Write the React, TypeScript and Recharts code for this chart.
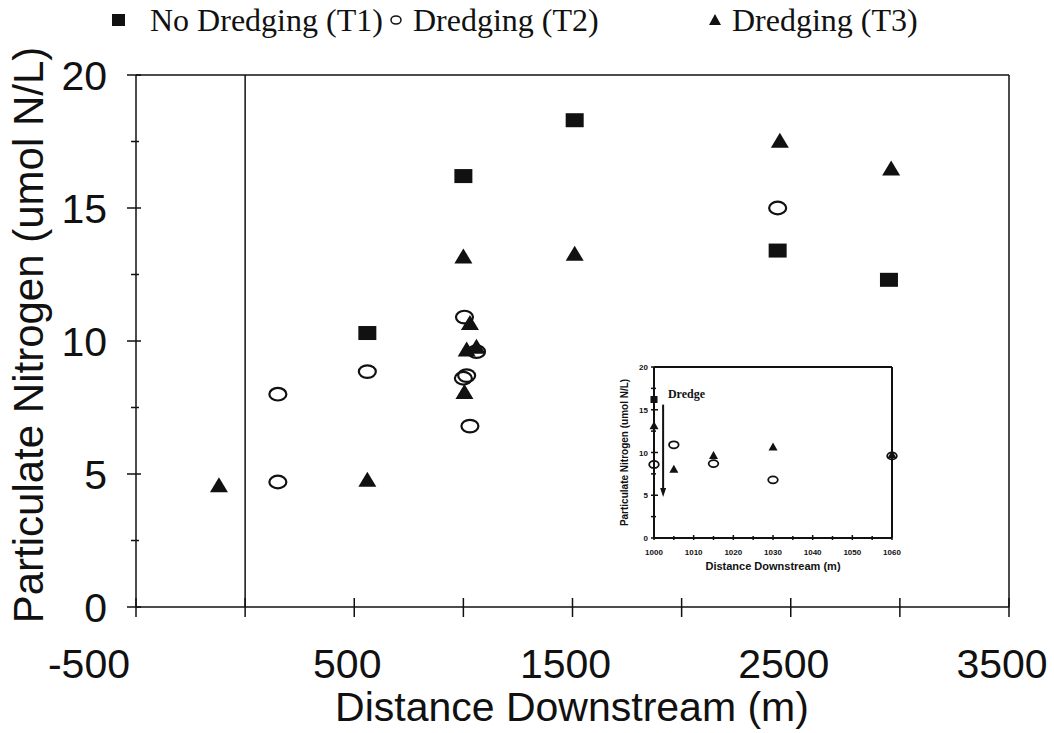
import React from 'react';
import { ScatterChart, Scatter, XAxis, YAxis, ReferenceLine, ReferenceDot, Label } from 'recharts';

// ---- data ----
const noDredgeX = [560, 1000, 1510, 2440, 2950];
const noDredgeY = [10.3, 16.2, 18.3, 13.4, 12.3];

const dredgeT2X = [150, 150, 560, 1000, 1005, 1015, 1030, 1060, 2440];
const dredgeT2Y = [8.0, 4.7, 8.85, 8.6, 10.9, 8.7, 6.8, 9.6, 15.0];

const dredgeT3X = [-120, 560, 1000, 1005, 1015, 1030, 1060, 1510, 2450, 2960];
const dredgeT3Y = [4.6, 4.8, 13.2, 8.1, 9.7, 10.7, 9.8, 13.3, 17.55, 16.5];

const mainXTicks = [-500, 0, 500, 1000, 1500, 2000, 2500, 3000, 3500];
const mainXLabels = [-500, 500, 1500, 2500, 3500];
const mainYTicks = [0, 2.5, 5, 7.5, 10, 12.5, 15, 17.5, 20];
const mainYLabels = [0, 5, 10, 15, 20];

const insetXTicks = [1000, 1005, 1010, 1015, 1020, 1025, 1030, 1035, 1040, 1045, 1050, 1055, 1060];
const insetXLabels = [1000, 1010, 1020, 1030, 1040, 1050, 1060];
const insetYTicks = [0, 2.5, 5, 7.5, 10, 12.5, 15, 17.5, 20];
const insetYLabels = [0, 5, 10, 15, 20];

const dredgeArrowX = 1002.3;
const dredgeArrowFrom = 15.6;
const dredgeArrowTo = 4.8;
const dredgeTextX = 1003.5;
const dredgeTextY = 16.4;

const seriesNames = ['No Dredging (T1)', 'Dredging (T2)', 'Dredging (T3)'];

const pts = (xs: number[], ys: number[]) => xs.map((x, i) => ({ x, y: ys[i] }));
const t1 = pts(noDredgeX, noDredgeY);
const t2 = pts(dredgeT2X, dredgeT2Y);
const t3 = pts(dredgeT3X, dredgeT3Y);
const inInset = (p: { x: number }) => p.x >= 1000 && p.x <= 1060;
const t1i = t1.filter(inInset);
const t2i = t2.filter(inInset);
const t3i = t3.filter(inInset);

const INK = '#111';
const SANS = "'Liberation Sans', Arial, sans-serif";
const SERIF = "'Liberation Serif', 'Times New Roman', serif";
const BIG = 41;

// ---- marker shapes ----
const squareShape = (w: number, h: number) => (p: any) => (
  <rect x={p.cx - w / 2} y={p.cy - h / 2} width={w} height={h} fill={INK} />
);
const circleShape = (rx: number, ry: number, sw: number) => (p: any) => (
  <ellipse cx={p.cx} cy={p.cy} rx={rx} ry={ry} fill="none" stroke={INK} strokeWidth={sw} />
);
const triangleShape = (w: number, h: number) => (p: any) => (
  <polygon
    points={`${p.cx - w / 2},${p.cy + h / 2} ${p.cx + w / 2},${p.cy + h / 2} ${p.cx},${p.cy - h / 2}`}
    fill={INK}
  />
);

// ---- main axis ticks ----
const MainYTick = (props: any) => {
  const { x, y, payload } = props;
  const v = payload.value;
  const major = mainYLabels.includes(v);
  return (
    <g>
      <line x1={x - (major ? 9 : 5)} x2={x + (major ? 5 : 3)} y1={y} y2={y} stroke={INK} strokeWidth={1.5} />
      {major && (
        <text x={x - 29} y={y + 15} textAnchor="end" fontFamily={SANS} fontSize={BIG} fill={INK}>
          {v}
        </text>
      )}
    </g>
  );
};

const MainXTick = (props: any) => {
  const { x, y, payload } = props;
  const v = payload.value;
  const labeled = mainXLabels.includes(v);
  return (
    <g>
      <line x1={x} x2={x} y1={y - 9} y2={y + 10} stroke={INK} strokeWidth={1.5} />
      {labeled && (
        <text
          x={v < 0 ? x - 6 : x - 7}
          y={y + 71}
          textAnchor={v < 0 ? 'end' : 'middle'}
          fontFamily={SANS}
          fontSize={BIG}
          fill={INK}
        >
          {v}
        </text>
      )}
    </g>
  );
};

// ---- inset axis ticks ----
const InsetYTick = (props: any) => {
  const { x, y, payload } = props;
  const v = payload.value;
  const major = insetYLabels.includes(v);
  return (
    <g>
      <line x1={x - 3} x2={x + (major ? 4 : 2)} y1={y} y2={y} stroke={INK} strokeWidth={1.5} />
      {major && (
        <text x={x - 6} y={y + 3} textAnchor="end" fontFamily={SANS} fontWeight="bold" fontSize={8} fill={INK}>
          {v}
        </text>
      )}
    </g>
  );
};

const InsetXTick = (props: any) => {
  const { x, y, payload } = props;
  const v = payload.value;
  const major = insetXLabels.includes(v);
  return (
    <g>
      <line x1={x} x2={x} y1={y - (major ? 3 : 2)} y2={y + 2} stroke={INK} strokeWidth={1.5} />
      {major && (
        <text x={x} y={y + 17} textAnchor="middle" fontFamily={SANS} fontWeight="bold" fontSize={8} fill={INK}>
          {v}
        </text>
      )}
    </g>
  );
};

const ArrowShape = (p: any) => {
  const { x1, y1, x2, y2 } = p;
  return (
    <g>
      <line x1={x1} y1={y1} x2={x2} y2={y2 - 6} stroke={INK} strokeWidth={2} />
      <polygon points={`${x2 - 3},${y2 - 9} ${x2 + 3},${y2 - 9} ${x2},${y2}`} fill={INK} />
    </g>
  );
};

const DredgeText = (p: any) => (
  <text x={p.cx} y={p.cy} fontFamily={SERIF} fontWeight="bold" fontSize={12} fill={INK}>
    Dredge
  </text>
);

const LegendBar = () => (
  <svg width={1054} height={45} style={{ position: 'absolute', left: 0, top: 0 }}>
    <rect x={112} y={14} width={13} height={12} fill={INK} />
    <text x={150} y={31} fontFamily={SERIF} fontSize={32} fill={INK}>{seriesNames[0]}</text>
    <ellipse cx={396} cy={20} rx={5} ry={4} fill="none" stroke={INK} strokeWidth={1.5} />
    <text x={413} y={31} fontFamily={SERIF} fontSize={32} fill={INK}>{seriesNames[1]}</text>
    <polygon points="709,25 721,25 715,14" fill={INK} />
    <text x={732} y={31} fontFamily={SERIF} fontSize={32} fill={INK}>{seriesNames[2]}</text>
  </svg>
);

const Inset = () => (
  <div style={{ position: 'absolute', left: 600, top: 355 }}>
    <ScatterChart width={310} height={230} margin={{ top: 12, right: 18, bottom: 17, left: 24 }}>
      <XAxis
        type="number"
        dataKey="x"
        domain={[1000, 1060]}
        ticks={insetXTicks}
        interval={0}
        tickSize={0}
        tickMargin={0}
        height={30}
        stroke={INK}
        strokeWidth={2}
        tick={<InsetXTick />}
      >
        <Label
          content={(lp: any) => {
            const vb = lp.viewBox;
            return (
              <text x={vb.x + vb.width / 2} y={vb.y + 32} textAnchor="middle" fontFamily={SANS} fontWeight="bold" fontSize={11} fill={INK}>
                Distance Downstream (m)
              </text>
            );
          }}
        />
      </XAxis>
      <YAxis
        type="number"
        dataKey="y"
        domain={[0, 20]}
        ticks={insetYTicks}
        interval={0}
        tickSize={0}
        tickMargin={0}
        width={30}
        stroke={INK}
        strokeWidth={2}
        tick={<InsetYTick />}
      >
        <Label
          content={(lp: any) => {
            const vb = lp.viewBox;
            const cx = 25;
            const cy = vb.y + vb.height / 2;
            return (
              <text x={cx} y={cy} transform={`rotate(-90, ${cx}, ${cy})`} textAnchor="middle" dominantBaseline="middle" fontFamily={SANS} fontWeight="bold" fontSize={10} fill={INK}>
                Particulate Nitrogen (umol N/L)
              </text>
            );
          }}
        />
      </YAxis>
      <ReferenceLine y={20} stroke={INK} strokeWidth={2} />
      <ReferenceLine x={1060} stroke={INK} strokeWidth={2} />
      <ReferenceLine
        segment={[{ x: dredgeArrowX, y: dredgeArrowFrom }, { x: dredgeArrowX, y: dredgeArrowTo }]}
        shape={ArrowShape}
      />
      <ReferenceDot x={dredgeTextX} y={dredgeTextY} r={0} shape={DredgeText} />
      <Scatter name={seriesNames[1]} data={t2i} shape={circleShape(4.8, 3.5, 1.8)} isAnimationActive={false} />
      <Scatter name={seriesNames[2]} data={t3i} shape={triangleShape(9, 8)} isAnimationActive={false} />
      <Scatter name={seriesNames[0]} data={t1i} shape={squareShape(7, 7)} isAnimationActive={false} />
    </ScatterChart>
  </div>
);

export default function App() {
  return (
    <div style={{ position: 'absolute', left: 0, top: 0, width: 1054, height: 733, background: '#fff' }}>
      <ScatterChart width={1054} height={733} margin={{ top: 75, right: 45, bottom: 66, left: 66 }}>
        <XAxis
          type="number"
          dataKey="x"
          domain={[-500, 3500]}
          ticks={mainXTicks}
          interval={0}
          tickSize={0}
          tickMargin={0}
          height={60}
          stroke={INK}
          strokeWidth={1.5}
          tick={<MainXTick />}
        >
          <Label
            content={(lp: any) => {
              const vb = lp.viewBox;
              return (
                <text x={572} y={vb.y + 114} textAnchor="middle" fontFamily={SANS} fontSize={BIG} fill={INK}>
                  Distance Downstream (m)
                </text>
              );
            }}
          />
        </XAxis>
        <YAxis
          type="number"
          dataKey="y"
          domain={[0, 20]}
          ticks={mainYTicks}
          interval={0}
          tickSize={0}
          tickMargin={0}
          width={70}
          stroke={INK}
          strokeWidth={1.5}
          tick={<MainYTick />}
        >
          <Label
            content={() => (
              <text x={43} y={335} transform="rotate(-90, 43, 335)" textAnchor="middle" fontFamily={SANS} fontSize={42} fill={INK}>
                Particulate Nitrogen (umol N/L)
              </text>
            )}
          />
        </YAxis>
        <ReferenceLine y={20} stroke={INK} strokeWidth={1.5} />
        <ReferenceLine x={3500} stroke={INK} strokeWidth={1.5} />
        <ReferenceLine x={0} stroke={INK} strokeWidth={1.5} />
        <Scatter name={seriesNames[1]} data={t2} shape={circleShape(8.5, 6.3, 2.2)} isAnimationActive={false} />
        <Scatter name={seriesNames[2]} data={t3} shape={triangleShape(18, 15)} isAnimationActive={false} />
        <Scatter name={seriesNames[0]} data={t1} shape={squareShape(18, 14)} isAnimationActive={false} />
      </ScatterChart>
      <LegendBar />
      <Inset />
    </div>
  );
}
